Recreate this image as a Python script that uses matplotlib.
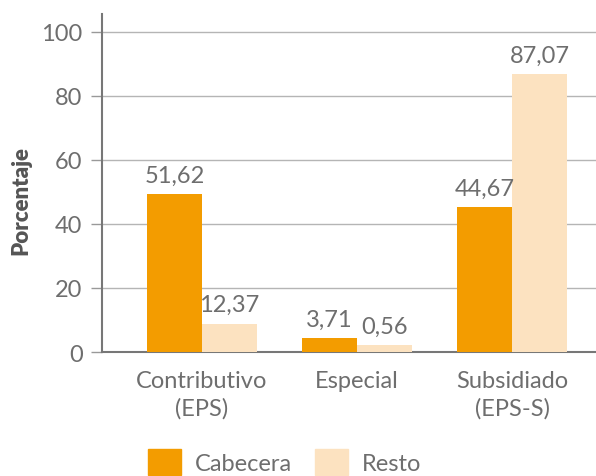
import numpy as np
import matplotlib
matplotlib.use("Agg")
import matplotlib.pyplot as plt
from matplotlib.patches import Patch

plt.rcParams["font.family"] = ["Lato", "DejaVu Sans"]

categories = ["Contributivo\n(EPS)", "Especial", "Subsidiado\n(EPS-S)"]
series_names = ["Cabecera", "Resto"]

# valores rotulados
cabecera = [51.62, 3.71, 44.67]
resto = [12.37, 0.56, 87.07]
# alturas de barra tal como aparecen en la figura
cabecera_bar = [49.4, 4.4, 45.3]
resto_bar = [8.8, 2.2, 86.9]

yticks = [0, 20, 40, 60, 80, 100]

c_cab = "#F39C00"
c_res = "#FCE2C0"
txt = "#6e6e6e"

fig = plt.figure(figsize=(5.96, 4.77), dpi=100)
ax = fig.add_axes([102 / 596, 124 / 477, 494 / 596, 338 / 477])

x = np.arange(len(categories))
w = 0.355
b1 = ax.bar(x - w / 2, cabecera_bar, w, color=c_cab, zorder=3)
b2 = ax.bar(x + w / 2, resto_bar, w, color=c_res, zorder=3)

for bars, vals in ((b1, cabecera), (b2, resto)):
    for rect, v in zip(bars, vals):
        ax.annotate(f"{v:.2f}".replace(".", ","),
                    (rect.get_x() + rect.get_width() / 2, rect.get_height()),
                    xytext=(0, 9), textcoords="offset points",
                    ha="center", va="baseline", fontsize=17, color=txt)

ax.set_xlim(-0.645, 2.54)
ax.set_ylim(0, 105.6)
ax.set_yticks(yticks)
ax.set_yticklabels([str(t) for t in yticks], fontsize=17, color=txt)
ax.set_xticks(x)
ax.set_xticklabels(categories, fontsize=17, color=txt, linespacing=1.35)
ax.tick_params(axis="x", length=0, pad=13)
ax.tick_params(axis="y", length=8, width=1, color="#999999", pad=6)
ax.grid(axis="y", color="#b5b5b5", linewidth=1, zorder=0)
for s in ("top", "right"):
    ax.spines[s].set_visible(False)
ax.spines["left"].set_color("#777777")
ax.spines["left"].set_linewidth(1.5)
ax.spines["bottom"].set_color("#777777")
ax.spines["bottom"].set_linewidth(1.5)

ax.set_ylabel("Porcentaje", fontsize=16, fontweight="heavy", color="#555555")
ax.yaxis.set_label_coords(-0.142, 0.45)

handles = [Patch(color=c_cab), Patch(color=c_res)]
fig.legend(handles, series_names, loc="center left", ncol=2, frameon=False,
           bbox_to_anchor=(148 / 596, 1 - 463 / 477), borderpad=0, borderaxespad=0,
           handlelength=1.4, handleheight=1.3, handletextpad=0.6, columnspacing=0.95,
           prop={"size": 17}, labelcolor=txt)

fig.savefig("out.png", dpi=100)
